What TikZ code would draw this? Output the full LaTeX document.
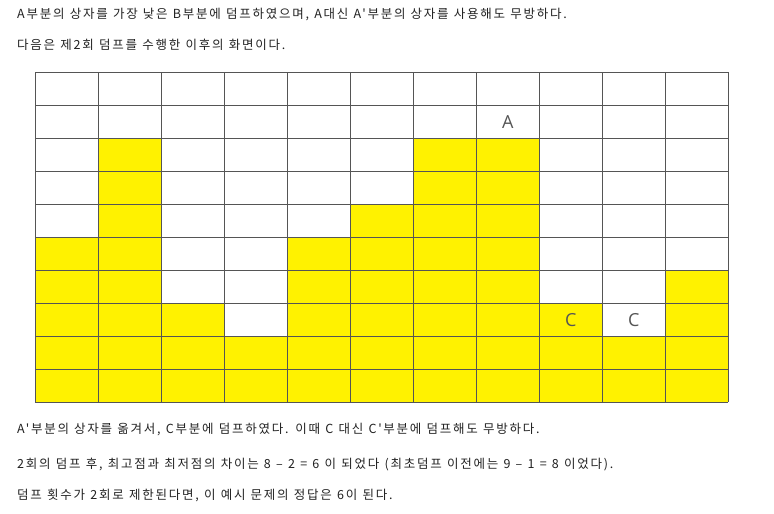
\documentclass[tikz,border=0pt]{standalone}
\usepackage{fontspec}
\setmainfont{Noto Sans CJK KR}
\newfontfamily\parafont[LetterSpace=14,WordSpace=1.15]{Noto Sans CJK KR}
\newfontfamily\labfont{Open Sans}
\definecolor{boxyellow}{HTML}{FFF200}
\definecolor{gridgray}{HTML}{555555}
\definecolor{txtcol}{HTML}{222222}
\definecolor{labgray}{HTML}{555555}
\begin{document}
\begin{tikzpicture}[x=1pt,y=-1pt,
  para/.style={anchor=west,inner sep=0pt,text=txtcol,font=\parafont\fontsize{12.5}{14}\selectfont},
  cellfill/.style={fill=boxyellow,draw=none},
  gridline/.style={draw=gridgray,line width=0.9pt},
  celllabel/.style={inner sep=0pt,text=labgray,font=\labfont\fontsize{18}{20}\selectfont}]
\useasboundingbox (0,0) rectangle (774,514);
\fill[white] (0,0) rectangle (774,514);
\def\gx{35.3}\def\gy{72.3}\def\cw{63}\def\rh{33}
% filled columns
\foreach \h [count=\i from 0] in {5,8,3,2,5,6,8,8,3,2,4}{
  \fill[cellfill] ({\gx+\cw*\i},{\gy+\rh*(10-\h)}) rectangle ({\gx+\cw*(\i+1)},{\gy+\rh*10});
}
% grid
\foreach \i in {0,...,11}{
  \draw[gridline] ({\gx+\cw*\i},\gy) -- ({\gx+\cw*\i},{\gy+\rh*10});
}
\foreach \j in {0,...,10}{
  \draw[gridline] (\gx,{\gy+\rh*\j}) -- ({\gx+\cw*11},{\gy+\rh*\j});
}
% labels
\node[celllabel] (labA) at ({\gx+\cw*7.5},{\gy+\rh*1.5}) {A};
\node[celllabel] (labC1) at ({\gx+\cw*8.5},{\gy+\rh*7.5}) {C};
\node[celllabel] (labC2) at ({\gx+\cw*9.5},{\gy+\rh*7.5}) {C};
% text
\node[para] (t1) at (17,15) {A부분의 상자를 가장 낮은 B부분에 덤프하였으며, A대신 A'부분의 상자를 사용해도 무방하다.};
\node[para] (t2) at (17,45) {다음은 제2회 덤프를 수행한 이후의 화면이다.};
\node[para] (t3) at (17,430) {A'부분의 상자를 옮겨서, C부분에 덤프하였다. 이때 C 대신 C'부분에 덤프해도 무방하다.};
\node[para] (t4) at (17,465) {2회의 덤프 후, 최고점과 최저점의 차이는 8 – 2 = 6 이 되었다 (최초덤프 이전에는 9 – 1 = 8 이었다).};
\node[para] (t5) at (17,495) {덤프 횟수가 2회로 제한된다면, 이 예시 문제의 정답은 6이 된다.};
\end{tikzpicture}
\end{document}
